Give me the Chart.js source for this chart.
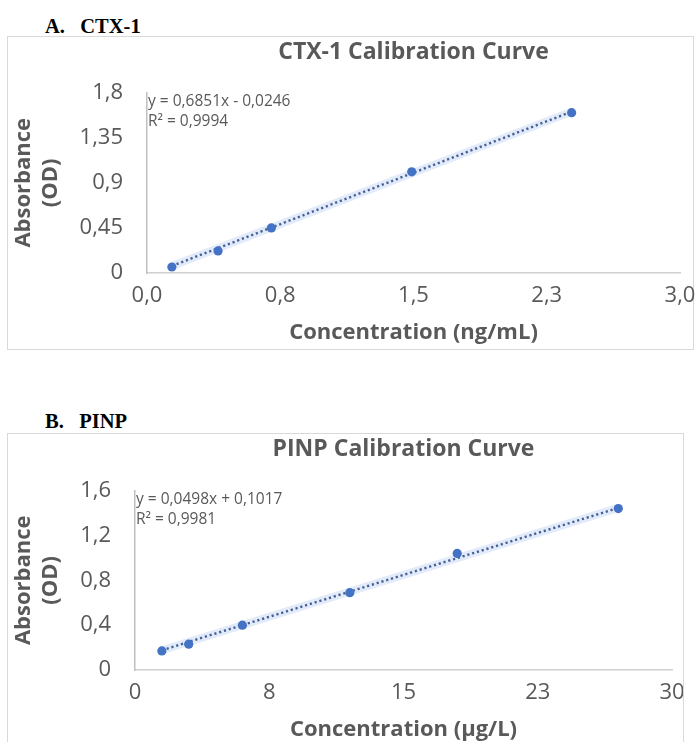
<!DOCTYPE html>
<html><head><meta charset="utf-8">
<script src="https://cdn.jsdelivr.net/npm/chart.js@4.4.1/dist/chart.umd.min.js"></script>
<style>
html,body{margin:0;padding:0;background:#fff;width:696px;height:742px;overflow:hidden;position:relative;}
.hdr{position:absolute;font-family:"Liberation Serif","Times New Roman",serif;font-weight:bold;font-size:20.5px;line-height:20px;color:#000;white-space:pre;}
.box{position:absolute;border:1px solid #d9d9d9;box-sizing:border-box;}
canvas{position:absolute;}
</style></head><body>
<div class="hdr" style="left:45px;top:16px;">A.   CTX-1</div>
<div class="box" style="left:7px;top:36px;width:687px;height:314px;"></div>
<canvas id="cA" width="688" height="312" style="left:8px;top:37px;"></canvas>
<div class="hdr" style="left:45px;top:411px;">B.   PINP</div>
<div class="box" style="left:7px;top:433px;width:677px;height:330px;"></div>
<canvas id="cB" width="675" height="312" style="left:8px;top:434px;"></canvas>
<script>
// ---- Chart A: CTX-1 ----
const titleA = 'CTX-1 Calibration Curve';
const xTitleA = 'Concentration (ng/mL)';
const concA = [0.14, 0.40, 0.70, 1.49, 2.39];
const absA  = [0.06, 0.22, 0.45, 1.01, 1.60];
const trendXA = [0.14, 2.39];
const trendYA = [0.07, 1.61];
const eqA = ['y = 0,6851x - 0,0246', 'R\u00B2 = 0,9994'];
const xTickValsA = [0, 0.75, 1.5, 2.25, 3.0];
const xTickLabelsA = ['0,0', '0,8', '1,5', '2,3', '3,0'];
const yTickValsA = [0, 0.45, 0.9, 1.35, 1.8];
const yTickLabelsA = ['0', '0,45', '0,9', '1,35', '1,8'];

// ---- Chart B: PINP ----
const titleB = 'PINP Calibration Curve';
const xTitleB = 'Concentration (\u00B5g/L)';
const concB = [1.5, 3, 6, 12, 18, 27];
const absB  = [0.17, 0.23, 0.40, 0.69, 1.04, 1.44];
const trendXB = [1.5, 27];
const trendYB = [0.176, 1.446];
const eqB = ['y = 0,0498x + 0,1017', 'R\u00B2 = 0,9981'];
const xTickValsB = [0, 7.5, 15, 22.5, 30];
const xTickLabelsB = ['0', '8', '15', '23', '30'];
const yTickValsB = [0, 0.4, 0.8, 1.2, 1.6];
const yTickLabelsB = ['0', '0,4', '0,8', '1,2', '1,6'];

const yTitle = ['Absorbance', '(OD)'];
const GREY = '#595959';
const FONT = '"Open Sans", Lato, sans-serif';

const eqPlugin = {
  id: 'eq',
  afterDraw(chart, args, opts) {
    const ctx = chart.ctx, a = chart.chartArea;
    ctx.save();
    ctx.fillStyle = GREY;
    ctx.font = '15.5px ' + FONT;
    ctx.textBaseline = 'middle';
    ctx.textAlign = 'left';
    opts.lines.forEach((t, i) => ctx.fillText(t, a.left + 1, a.top + 9 + i * 20));
    ctx.restore();
  }
};

function makeChart(id, d) {
  const pts = d.x.map((v, i) => ({x: v, y: d.y[i]}));
  const tr = d.tx.map((v, i) => ({x: v, y: d.ty[i]}));
  return new Chart(document.getElementById(id), {
    type: 'scatter',
    data: {
      datasets: [
        {type: 'line', data: tr, borderColor: 'rgba(190,210,245,0.45)', borderWidth: 8, pointRadius: 0, fill: false, order: 3},
        {type: 'line', data: tr, borderColor: '#4a5f95', borderWidth: 2.4, borderDash: [2.2, 2.8], pointRadius: 0, fill: false, order: 2},
        {data: pts, backgroundColor: '#4472C4', borderColor: '#4472C4', pointRadius: 4.6, borderWidth: 0, order: 1}
      ]
    },
    plugins: [eqPlugin],
    options: {
      responsive: false,
      animation: false,
      devicePixelRatio: 1,
      layout: {padding: {left: 0, top: 0, right: d.padR, bottom: 0}},
      plugins: {
        legend: {display: false},
        tooltip: {enabled: false},
        title: {display: true, text: d.title, fullSize: false, color: GREY,
          font: {family: FONT, size: 23, weight: 'bold', lineHeight: 1.2},
          padding: {top: 2, bottom: d.titleBottom}},
        eq: {lines: d.eq}
      },
      scales: {
        x: {
          type: 'linear', min: d.xv[0], max: d.xv[d.xv.length - 1],
          afterBuildTicks: s => { s.ticks = d.xv.map(v => ({value: v})); },
          afterFit: s => { s.height = 76; s.paddingLeft = 0; s.paddingRight = 0; },
          grid: {display: false, drawTicks: false},
          border: {display: true, color: '#d0d0d0', width: 1.5},
          ticks: {color: GREY, font: {family: FONT, size: 22}, padding: 10, maxRotation: 0,
            callback: (v, i) => d.xl[i]},
          title: {display: true, text: d.xTitle, color: GREY,
            font: {family: FONT, size: 22, weight: 'bold', lineHeight: 1.2}, padding: {top: 0, bottom: 3}}
        },
        y: {
          type: 'linear', min: d.yv[0], max: d.yv[d.yv.length - 1],
          afterBuildTicks: s => { s.ticks = d.yv.map(v => ({value: v})); },
          afterFit: s => { s.width = d.yW; s.paddingTop = 0; s.paddingBottom = 0; },
          grid: {display: false, drawTicks: false},
          border: {display: true, color: '#bfbfbf', width: 1.5},
          ticks: {color: GREY, font: {family: FONT, size: 22}, padding: 24,
            callback: (v, i) => d.yl[i]},
          title: {display: true, text: yTitle, color: GREY,
            font: {family: FONT, size: 22, weight: 'bold', lineHeight: 1.2}, padding: {top: 3, bottom: 0}}
        }
      }
    }
  });
}

makeChart('cA', {x: concA, y: absA, tx: trendXA, ty: trendYA, eq: eqA, title: titleA, xTitle: xTitleA,
  xv: xTickValsA, xl: xTickLabelsA, yv: yTickValsA, yl: yTickLabelsA, yW: 139, padR: 16, titleBottom: 26});
makeChart('cB', {x: concB, y: absB, tx: trendXB, ty: trendYB, eq: eqB, title: titleB, xTitle: xTitleB,
  xv: xTickValsB, xl: xTickLabelsB, yv: yTickValsB, yl: yTickLabelsB, yW: 127, padR: 11, titleBottom: 27});
</script>
</body></html>
